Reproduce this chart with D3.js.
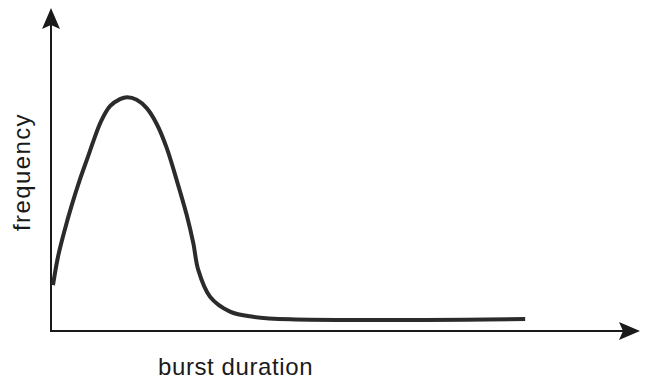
<!DOCTYPE html>
<html>
<head>
<meta charset="utf-8">
<script src="https://cdn.jsdelivr.net/npm/d3@7"></script>
<style>
  html, body { margin: 0; padding: 0; background: #fff; }
  svg { display: block; }
  .axis-label { font-family: "Liberation Sans", Arial, Helvetica, sans-serif; fill: #1a1a1a; }
</style>
</head>
<body>
<div id="chart"></div>
<script>
// burst duration (arbitrary units, 0..100 along the x axis)
const durations = [0.34, 1.19, 2.33, 3.45, 4.87, 6.28, 7.18, 8.49, 10.02, 11.71, 12.95, 14.55, 16.25, 17.95, 19.64, 21.34, 23.04, 24.16, 25.0, 27.0, 30.4, 34.3, 40.6, 80.5];
// frequency (arbitrary units, 0..100 along the y axis)
const frequencies = [14.2, 23.0, 31.3, 38.5, 46.7, 54.0, 58.7, 64.9, 69.6, 71.8, 72.4, 71.6, 69.0, 64.1, 56.7, 46.7, 35.9, 27.2, 18.9, 10.6, 6.0, 4.4, 3.6, 3.7];

const xLabel = 'burst duration';
const yLabel = 'frequency';

const WIDTH = 657;
const HEIGHT = 392;
const INK = '#1a1a1a';

const svg = d3.select('#chart')
  .append('svg')
  .attr('width', WIDTH)
  .attr('height', HEIGHT);

const x = d3.scaleLinear().domain([0, 100]).range([51, 640]);
const y = d3.scaleLinear().domain([0, 100]).range([331, 8]);

// arrowheads with a small notch at the back
function arrowPath(tipX, tipY, dir) {
  const len = 21, half = 9, notch = 4;
  if (dir === 'up') {
    return `M${tipX},${tipY} L${tipX + half},${tipY + len} L${tipX},${tipY + len - notch} L${tipX - half},${tipY + len} Z`;
  }
  return `M${tipX},${tipY} L${tipX - len},${tipY - half} L${tipX - len + notch},${tipY} L${tipX - len},${tipY + half} Z`;
}

const axes = svg.append('g').attr('class', 'axes');

axes.append('line')
  .attr('x1', x(0)).attr('y1', y(0))
  .attr('x2', x(0)).attr('y2', y(100) + 10)
  .attr('stroke', INK).attr('stroke-width', 2);

axes.append('line')
  .attr('x1', x(0) - 1).attr('y1', y(0))
  .attr('x2', x(100) - 10).attr('y2', y(0))
  .attr('stroke', INK).attr('stroke-width', 2);

axes.append('path')
  .attr('d', arrowPath(x(0), y(100), 'up'))
  .attr('fill', INK);

axes.append('path')
  .attr('d', arrowPath(x(100), y(0), 'right'))
  .attr('fill', INK);

const points = durations.map((d, i) => [d, frequencies[i]]);

const line = d3.line()
  .x((d) => x(d[0]))
  .y((d) => y(d[1]))
  .curve(d3.curveCatmullRom.alpha(0.5));

svg.append('path')
  .datum(points)
  .attr('d', line)
  .attr('fill', 'none')
  .attr('stroke', '#2b2b2b')
  .attr('stroke-width', 4)
  .attr('stroke-linejoin', 'round');

svg.append('text')
  .attr('class', 'axis-label')
  .attr('x', 158)
  .attr('y', 375)
  .attr('font-size', 24)
  .attr('letter-spacing', 0.6)
  .text(xLabel);

svg.append('text')
  .attr('class', 'axis-label')
  .attr('transform', 'translate(30,172) rotate(-90)')
  .attr('text-anchor', 'middle')
  .attr('font-size', 24)
  .attr('letter-spacing', 1.4)
  .text(yLabel);
</script>
</body>
</html>
